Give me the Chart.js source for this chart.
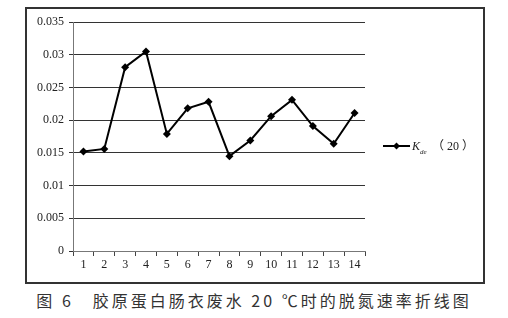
<!DOCTYPE html>
<html>
<head>
<meta charset="utf-8">
<script src="https://cdn.jsdelivr.net/npm/chart.js@4"></script>
<style>
  body { margin: 0; background: #fff; width: 508px; height: 318px; position: relative; overflow: hidden; }
  #box { position: absolute; left: 25px; top: 7px; width: 456px; height: 273px; border: 2px solid #333; }
  #caption { position: absolute; left: 0; top: 288px; width: 508px; text-align: center;
    font-family: "Noto Sans CJK SC", sans-serif; font-size: 16px; letter-spacing: 3px; color: #333; }
</style>
</head>
<body>
<div id="box"><canvas id="chartCanvas" width="456" height="273"></canvas></div>
<div id="caption">图 6　胶原蛋白肠衣废水 20 ℃时的脱氮速率折线图</div>
<script>
const labels = ['1', '2', '3', '4', '5', '6', '7', '8', '9', '10', '11', '12', '13', '14']
const kde20 = [0.0152, 0.0156, 0.0281, 0.0305, 0.0179, 0.0218, 0.0228, 0.0145, 0.0169, 0.0206, 0.0231, 0.0191, 0.0164, 0.0211]
const yTicks = [0, 0.005, 0.01, 0.015, 0.02, 0.025, 0.03, 0.035]

const tickFont = { family: 'Liberation Serif', size: 12 }

// legend drawn by hand so K can carry its "de" subscript
const kLegend = {
  id: 'kLegend',
  afterDraw(chart) {
    const ctx = chart.ctx
    const y = 137
    ctx.save()
    ctx.strokeStyle = '#000'
    ctx.lineWidth = 2
    ctx.beginPath()
    ctx.moveTo(356, y)
    ctx.lineTo(383, y)
    ctx.stroke()
    ctx.fillStyle = '#000'
    ctx.beginPath()
    ctx.moveTo(369.5, y - 3.5)
    ctx.lineTo(373, y)
    ctx.lineTo(369.5, y + 3.5)
    ctx.lineTo(366, y)
    ctx.closePath()
    ctx.fill()
    ctx.fillStyle = '#222'
    ctx.textBaseline = 'alphabetic'
    ctx.font = 'italic 12px "Liberation Serif"'
    ctx.fillText('K', 385, y + 4)
    ctx.font = 'italic 7px "Liberation Serif"'
    ctx.fillText('de', 393, y + 8)
    ctx.font = '12px "Noto Sans CJK SC"'
    ctx.fillText('（', 405, y + 4)
    ctx.fillText('）', 435, y + 4)
    ctx.font = '12px "Liberation Serif"'
    ctx.fillText('20', 420, y + 4)
    ctx.restore()
  }
}

const chartCanvas = document.getElementById('chartCanvas')
let lineChart = new Chart(chartCanvas, {
  type: 'line',
  data: {
    labels: labels,
    datasets: [
      {
        label: 'Kde（20）',
        data: kde20,
        borderColor: '#000',
        backgroundColor: '#000',
        borderWidth: 2,
        tension: 0,
        pointStyle: 'rectRot',
        pointRadius: 4,
        pointBorderWidth: 0,
        pointBackgroundColor: '#000'
      }
    ]
  },
  options: {
    responsive: false,
    animation: false,
    layout: { padding: { top: 13, right: 118, left: 0, bottom: 0 } },
    plugins: { legend: { display: false }, tooltip: { enabled: false } },
    scales: {
      x: {
        offset: true,
        grid: { offset: true, drawOnChartArea: false, drawTicks: true, tickLength: 5, color: '#444' },
        border: { color: '#777', width: 1 },
        ticks: { color: '#222', font: tickFont, padding: 2, maxRotation: 0, autoSkip: false },
        afterFit: s => { s.height = 31 }
      },
      y: {
        min: 0,
        max: 0.035,
        afterBuildTicks: s => { s.ticks = yTicks.map(v => ({ value: v })) },
        grid: { color: '#333', tickLength: 4 },
        border: { color: '#777', width: 1 },
        ticks: { color: '#222', font: tickFont, padding: 5, callback: v => String(+v.toFixed(3)) },
        afterFit: s => { s.width = 46 }
      }
    }
  },
  plugins: [kLegend]
})
</script>
</body>
</html>
